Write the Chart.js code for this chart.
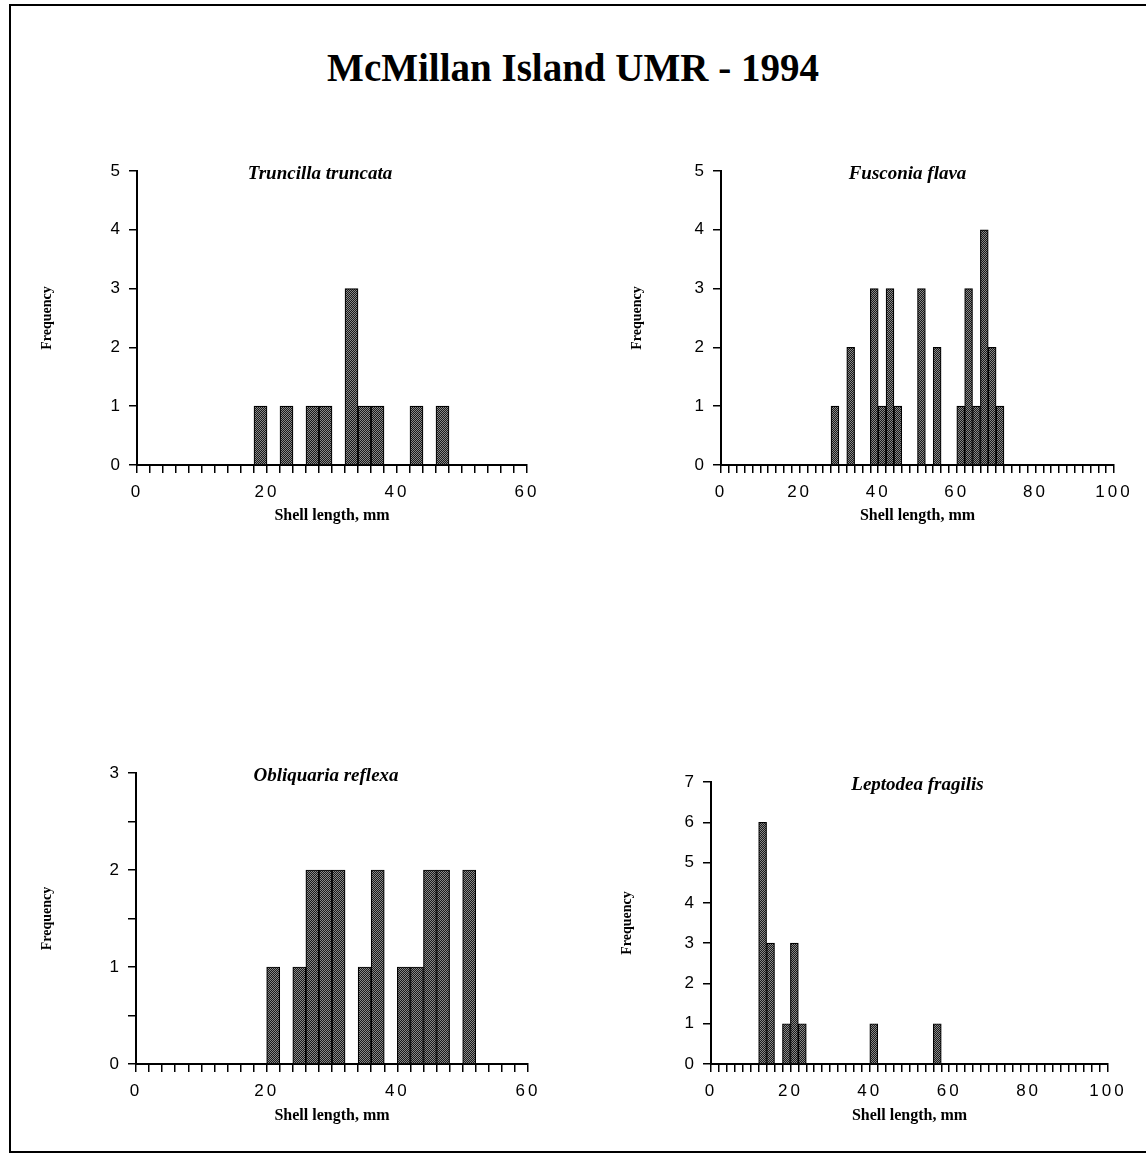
<!DOCTYPE html>
<html>
<head>
<meta charset="utf-8">
<script src="https://cdn.jsdelivr.net/npm/chart.js@4.4.1/dist/chart.umd.min.js"></script>
<style>
  body { margin: 0; background: #fff; width: 1146px; height: 1158px; position: relative; overflow: hidden; }
  #frame { position: absolute; left: 9px; top: 4px; width: 1150px; height: 1149px; border: 2px solid #000; box-sizing: border-box; }
  h1 { position: absolute; left: 0; width: 1146px; top: 45px; margin: 0; text-align: center;
       font: bold 39px "Liberation Serif", serif; }
  canvas { position: absolute; }
</style>
</head>
<body>
<div id="frame"></div>
<h1>McMillan Island UMR - 1994</h1>
<canvas id="c1" width="535" height="385" style="left:20px;top:150px"></canvas>
<canvas id="c2" width="546" height="385" style="left:600px;top:150px"></canvas>
<canvas id="c3" width="535" height="390" style="left:20px;top:750px"></canvas>
<canvas id="c4" width="556" height="390" style="left:590px;top:750px"></canvas>
<script>
// bins are 2 mm wide, listed by their lower edge
const binWidth = 2;

const truncataBins = [18, 22, 26, 28, 32, 34, 36, 42, 46];
const truncataCounts = [1, 1, 1, 1, 3, 1, 1, 1, 1];

const fusconiaBins = [28, 32, 38, 40, 42, 44, 50, 54, 60, 62, 64, 66, 68, 70];
const fusconiaCounts = [1, 2, 3, 1, 3, 1, 3, 2, 1, 3, 1, 4, 2, 1];

const obliquariaBins = [20, 24, 26, 28, 30, 34, 36, 40, 42, 44, 46, 50];
const obliquariaCounts = [1, 1, 2, 2, 2, 1, 2, 1, 1, 2, 2, 2];

const leptodeaBins = [12, 14, 18, 20, 22, 40, 56];
const leptodeaCounts = [6, 3, 1, 3, 1, 1, 1];

// stippled grey fill like the old printout
function stipple() {
  const c = document.createElement('canvas');
  c.width = 2; c.height = 2;
  const g = c.getContext('2d');
  g.fillStyle = '#1a1a1a';
  g.fillRect(0, 0, 2, 2);
  g.fillStyle = '#888';
  g.fillRect(0, 0, 1, 1);
  g.fillRect(1, 1, 1, 1);
  return g.createPattern(c, 'repeat');
}
const fill = stipple();

// tick labels are drawn on their own layer (ticks.z = 1), after the bars,
// so only they get the wide letter spacing
const speciesTitle = {
  id: 'species',
  beforeDraw(chart) {
    chart.ctx.letterSpacing = '0px';
  },
  afterDatasetsDraw(chart) {
    chart.ctx.letterSpacing = '3px';
  },
  afterDraw(chart, args, opts) {
    const ctx = chart.ctx;
    const a = chart.chartArea;
    ctx.save();
    ctx.letterSpacing = '0px';
    ctx.font = 'italic bold 19px "Liberation Serif"';
    ctx.fillStyle = '#000';
    ctx.textAlign = 'center';
    ctx.textBaseline = 'middle';
    ctx.fillText(opts.text, (a.left + a.right) / 2 + opts.dx, a.top + 3);
    ctx.restore();
  }
};

function histogram(id, species, bins, counts, xMax, yMax, yStep, box) {
  const ctx = document.getElementById(id).getContext('2d');
  return new Chart(ctx, {
    type: 'bar',
    data: {
      datasets: [{
        data: bins.map((b, i) => ({x: b + binWidth / 2, y: counts[i]})),
        backgroundColor: fill,
        borderColor: '#000',
        borderWidth: 1.2,
        categoryPercentage: 1,
        barPercentage: 1
      }]
    },
    options: {
      responsive: false,
      animation: false,
      layout: {padding: {top: box.top, right: box.right, left: 0, bottom: 0}},
      plugins: {
        legend: {display: false},
        tooltip: {enabled: false},
        species: {text: species, dx: box.dx}
      },
      scales: {
        x: {
          type: 'linear', min: 0, max: xMax, offset: false,
          grid: {drawOnChartArea: false, offset: false, tickLength: 8, color: '#000', lineWidth: 1.5},
          border: {color: '#000', width: 2},
          ticks: {
            z: 1, stepSize: binWidth, autoSkip: false, maxRotation: 0, padding: 9, color: '#000',
            font: {family: '"Liberation Sans"', size: 17},
            callback: v => (v % 20 === 0 ? v : '')
          },
          title: {
            display: true, text: 'Shell length, mm', color: '#000',
            font: {family: '"Liberation Serif"', size: 16, weight: 'bold'},
            padding: {top: 0, bottom: box.xtPad}
          },
          afterFit: s => { s.height = box.xh; }
        },
        y: {
          min: 0, max: yMax,
          grid: {drawOnChartArea: false, tickLength: 8, color: '#000', lineWidth: 1.5},
          border: {color: '#000', width: 2},
          ticks: {
            z: 1, stepSize: yStep, autoSkip: false, padding: 6, color: '#000',
            font: {family: '"Liberation Sans"', size: 17},
            callback: v => (Number.isInteger(v) ? v : '')
          },
          title: {
            display: true, text: 'Frequency', color: '#000',
            font: {family: '"Liberation Serif"', size: 14, weight: 'bold'},
            padding: {top: box.ytPad, bottom: 0}
          },
          afterFit: s => { s.width = box.yw; }
        }
      }
    },
    plugins: [speciesTitle]
  });
}

histogram('c1', 'Truncilla truncata', truncataBins, truncataCounts, 60, 5, 1,
  {yw: 117, xh: 70, top: 21, right: 28, ytPad: 19, xtPad: 10, dx: -12});
histogram('c2', 'Fusconia flava', fusconiaBins, fusconiaCounts, 100, 5, 1,
  {yw: 121, xh: 70, top: 21, right: 32, ytPad: 29, xtPad: 10, dx: -10});
histogram('c3', 'Obliquaria reflexa', obliquariaBins, obliquariaCounts, 60, 3, 0.5,
  {yw: 116, xh: 76, top: 23, right: 27, ytPad: 19, xtPad: 15, dx: -6});
histogram('c4', 'Leptodea fragilis', leptodeaBins, leptodeaCounts, 100, 7, 1,
  {yw: 121, xh: 76, top: 32, right: 38, ytPad: 29, xtPad: 15, dx: 8});
</script>
</body>
</html>
